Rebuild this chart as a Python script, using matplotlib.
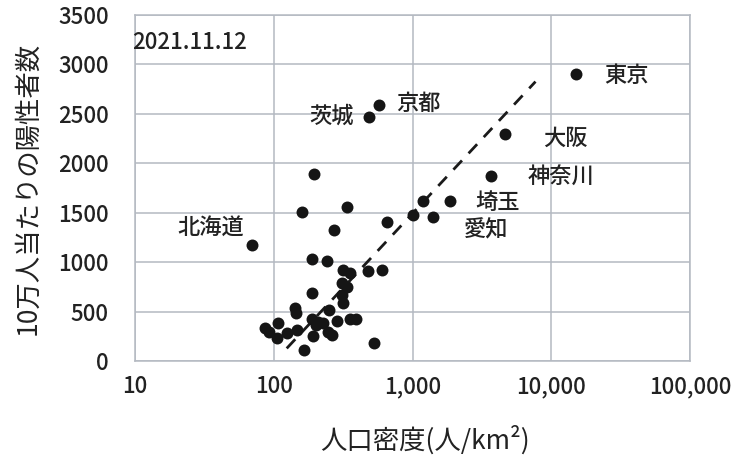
import numpy as np
import matplotlib
matplotlib.use("Agg")
import matplotlib.pyplot as plt
from matplotlib.ticker import FuncFormatter, FixedLocator

plt.rcParams['font.family'] = ['Noto Sans CJK JP', 'DejaVu Sans']
plt.rcParams['font.weight'] = 'medium'

# Named prefectures
named_names = ["東京", "京都", "大阪", "神奈川", "埼玉", "愛知", "茨城", "北海道"]
named_density = [15100, 576, 4610, 3700, 1875, 1409, 485, 70]
named_cases = [2904, 2591, 2297, 1876, 1616, 1454, 2472, 1171]
# label offsets (points) relative to each point, and alignment
label_dx = [20, 12, 28, 26, 18, 22, -11, -6]
label_dy = [-1, 1, -3, -1, -1, -9, 0, 13]
label_ha = ["left", "left", "left", "left", "left", "left", "right", "right"]

# Other prefectures
other_density = [1194, 1000, 660, 195, 159, 337, 274, 188, 243, 313, 354, 480, 605,
                 308, 335, 312, 317, 188, 142, 144, 250, 354, 389, 284, 190, 210,
                 87, 108, 92.5, 105, 124, 146, 191, 247, 262, 166, 531, 228, 200]
other_cases = [1622, 1477, 1410, 1892, 1511, 1555, 1326, 1029, 1015, 921, 894, 911, 921,
               786, 746, 668, 584, 691, 533, 483, 516, 425, 425, 408, 422, 398,
               331, 381, 297, 230, 280, 314, 253, 297, 263, 111, 185, 381, 360]

# trend line: y = slope*log10(x) + intercept
trend_x = [124, 7700]
trend_slope = 1505
trend_intercept = -3023

date_text = "2021.11.12"
x_ticks = [10, 100, 1000, 10000, 100000]
y_ticks = [0, 500, 1000, 1500, 2000, 2500, 3000, 3500]

fig = plt.figure(figsize=(7.35, 4.59), dpi=100)
ax = fig.add_axes([135/735, (459-361)/459, (690-135)/735, (361-15)/459])

ax.set_xscale('log')
ax.set_xlim(10, 100000)
ax.set_ylim(0, 3500)

grid_c = '#b4b9c1'
ax.xaxis.set_major_locator(FixedLocator(x_ticks))
ax.xaxis.set_minor_locator(FixedLocator([]))
ax.yaxis.set_major_locator(FixedLocator(y_ticks))
ax.xaxis.set_major_formatter(FuncFormatter(lambda v, p: f"{int(round(v)):,}"))
ax.yaxis.set_major_formatter(FuncFormatter(lambda v, p: f"{int(v)}"))
ax.grid(True, color=grid_c, linewidth=1.1)
ax.set_axisbelow(True)
for s in ax.spines.values():
    s.set_color(grid_c)
    s.set_linewidth(1.1)

ax.tick_params(axis='both', length=0, labelsize=16, colors='#222222')
ax.tick_params(axis='y', pad=19)
ax.tick_params(axis='x', pad=10)

tx = np.array(trend_x, dtype=float)
ty = trend_slope * np.log10(tx) + trend_intercept
ax.plot(tx, ty, linestyle=(0, (4.5, 3.5)), color='#1a1a1a', linewidth=2.0, zorder=3)

ax.scatter(other_density, other_cases, s=74, color='#151515', zorder=4, linewidths=0)
ax.scatter(named_density, named_cases, s=74, color='#151515', zorder=4, linewidths=0)

for n, x, y, dx, dy, ha in zip(named_names, named_density, named_cases, label_dx, label_dy, label_ha):
    ax.annotate(n, (x, y), xytext=(dx, dy), textcoords='offset points',
                ha=ha, va='center', fontsize=16, color='#222222')

ax.text(-0.005, 0.92, date_text, transform=ax.transAxes, ha='left', va='center',
        fontsize=16, color='#222222')

ax.set_xlabel("人口密度(人/km²)", fontsize=19, color='#222222')
ax.xaxis.set_label_coords(0.5225, -0.185)
ax.set_ylabel("10万人当たりの陽性者数", fontsize=19, labelpad=12, color='#222222')

fig.savefig("out.png", dpi=100)
